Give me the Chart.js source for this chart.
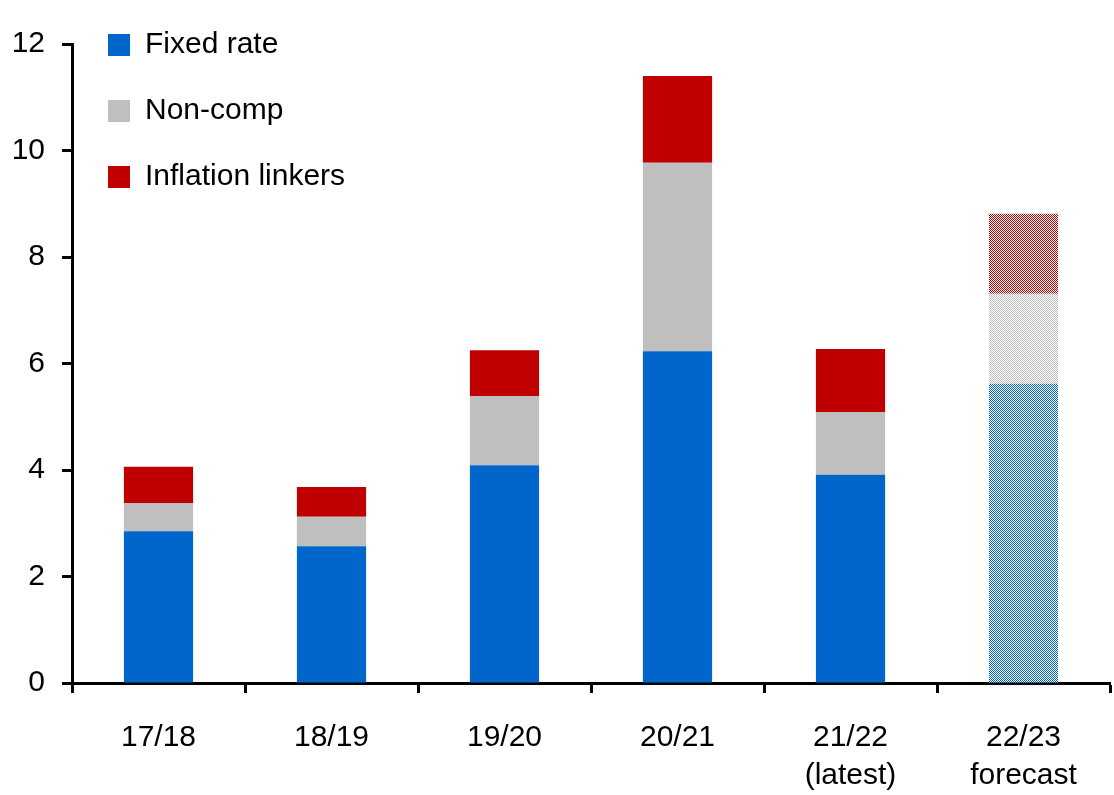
<!DOCTYPE html>
<html>
<head>
<meta charset="utf-8">
<script src="https://cdn.jsdelivr.net/npm/chart.js@4/dist/chart.umd.min.js"></script>
<style>
  html, body { margin: 0; padding: 0; background: #fff; }
  #wrap { width: 1114px; height: 795px; }
</style>
</head>
<body>
<div id="wrap"><canvas id="chart"></canvas></div>
<script>
const categories = [["17/18"], ["18/19"], ["19/20"], ["20/21"], ["21/22", "(latest)"], ["22/23", "forecast"]];
const fixedRate = [2.85, 2.57, 4.09, 6.23, 3.91, 5.62];
const nonComp = [0.53, 0.55, 1.30, 3.54, 1.18, 1.69];
const linkers = [0.68, 0.56, 0.86, 1.63, 1.18, 1.50];
const yTicks = [0, 2, 4, 6, 8, 10, 12];

const BLUE = "#0066cc";
const GREY = "#bfbfbf";
const RED = "#c00000";

// checkerboard fill for the forecast bar
function checker(color) {
  const c = document.createElement("canvas");
  c.width = 2;
  c.height = 2;
  const g = c.getContext("2d");
  g.fillStyle = "#ffffff";
  g.fillRect(0, 0, 2, 2);
  g.fillStyle = color;
  g.fillRect(0, 0, 1, 1);
  g.fillRect(1, 1, 1, 1);
  return g.createPattern(c, "repeat");
}

function fills(color) {
  return categories.map((c, i) => i === categories.length - 1 ? checker(color) : color);
}

const FAMILY = "'Liberation Sans', Arial, sans-serif";
const tickFont = { family: FAMILY, size: 30, lineHeight: 1.27 };

// legend sits level with the 12 label
const liftLegend = {
  id: "liftLegend",
  afterLayout(chart) {
    chart.legend.top -= 6;
    chart.legend.bottom -= 6;
  },
};

new Chart(document.getElementById("chart"), {
  type: "bar",
  data: {
    labels: categories,
    datasets: [
      { label: "Fixed rate", data: fixedRate, backgroundColor: fills(BLUE), legendColor: BLUE },
      { label: "Non-comp", data: nonComp, backgroundColor: fills(GREY), legendColor: GREY },
      { label: "Inflation linkers", data: linkers, backgroundColor: fills(RED), legendColor: RED },
    ],
  },
  plugins: [liftLegend],
  options: {
    responsive: true,
    maintainAspectRatio: false,
    animation: false,
    layout: { padding: { top: 44, right: 4, left: 0, bottom: 0 } },
    datasets: { bar: { categoryPercentage: 1, barPercentage: 0.4, borderWidth: 0 } },
    scales: {
      x: {
        stacked: true,
        offset: true,
        afterFit: (axis) => { axis.height = 112; },
        border: { color: "#000", width: 3 },
        grid: { offset: true, drawOnChartArea: false, drawTicks: true, tickLength: 10, tickColor: "#000", tickWidth: 3 },
        ticks: { color: "#000", font: tickFont, padding: 26, maxRotation: 0 },
      },
      y: {
        stacked: true,
        min: 0,
        max: 12,
        afterBuildTicks: (axis) => { axis.ticks = yTicks.map(v => ({ value: v })); },
        afterFit: (axis) => { axis.width = 72; },
        border: { color: "#000", width: 3 },
        grid: { drawOnChartArea: false, drawTicks: true, tickLength: 10, tickColor: "#000", tickWidth: 3 },
        ticks: { color: "#000", font: { family: FAMILY, size: 30 }, padding: 17 },
      },
    },
    plugins: {
      tooltip: { enabled: false },
      legend: {
        position: "chartArea",
        align: "start",
        labels: {
          color: "#595959",
          font: { family: FAMILY, size: 30 },
          boxWidth: 22,
          boxHeight: 22,
          padding: 36,
          generateLabels: (chart) => chart.data.datasets.map((ds, i) => ({
            text: ds.label,
            fillStyle: ds.legendColor,
            strokeStyle: ds.legendColor,
            lineWidth: 0,
            datasetIndex: i,
            hidden: false,
          })),
        },
      },
    },
  },
});
</script>
</body>
</html>
